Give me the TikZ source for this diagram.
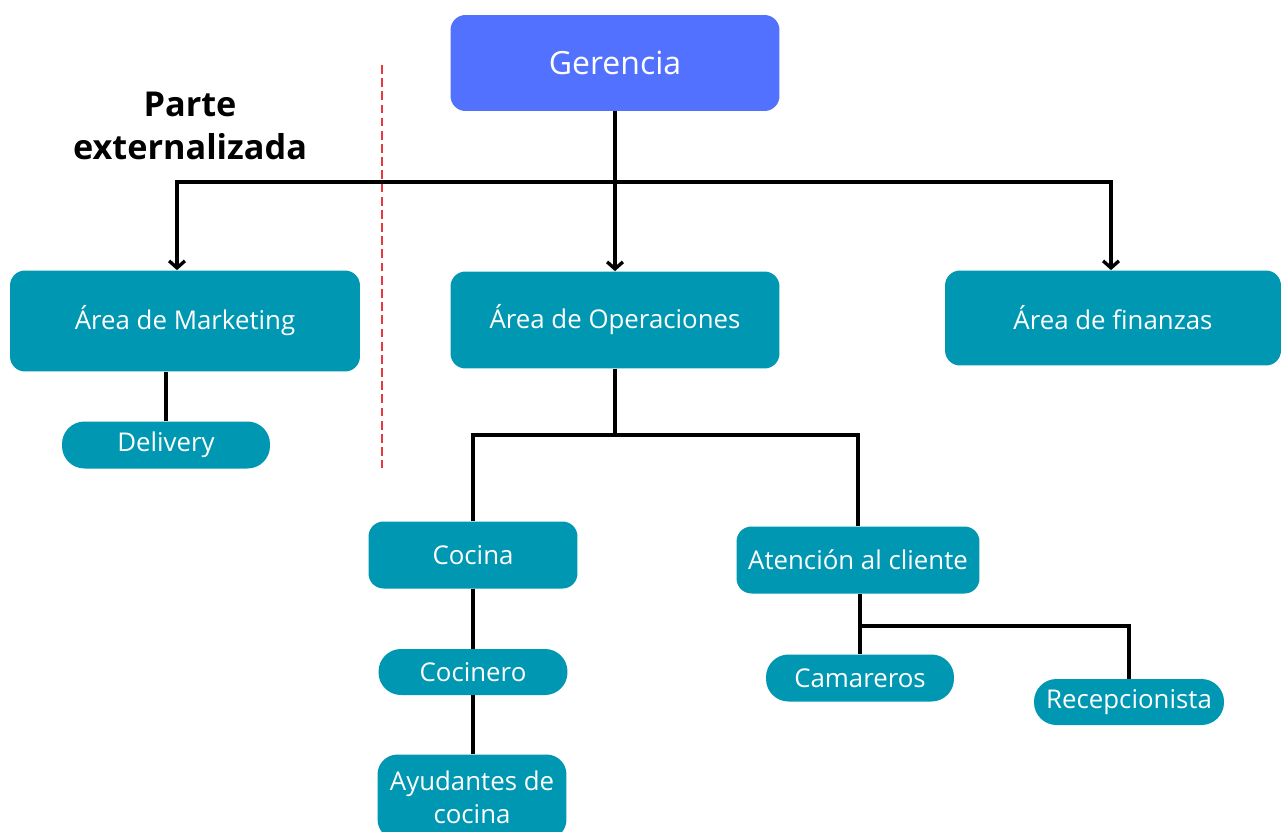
\documentclass[tikz,border=0pt]{standalone}
\usepackage{fontspec}
\setmainfont{Open Sans}
\usetikzlibrary{arrows.meta}
\definecolor{boxteal}{HTML}{0097B2}
\definecolor{boxblue}{HTML}{5271FF}
\definecolor{sepred}{HTML}{E8383D}

\begin{document}
\begin{tikzpicture} [
        x = 0.02cm, y = -0.02cm,
        >={Straight Barb[length=4pt, width=9pt]},
        every node/.style = {rectangle, rounded corners=0.3cm, fill=boxteal,
                             text=white, inner sep=0pt,
                             font=\fontsize{14.7}{19}\selectfont},
        pill/.style = {rounded corners=0.45cm, minimum height=0.94cm},
        lnk/.style = {line width=1.9pt, black}
    ]
    \clip (0,0) rectangle (1283,831);
    \fill[white] (0,0) rectangle (1283,831);

    % top level
    \node (Ger) [fill=boxblue, minimum width=6.58cm, minimum height=1.92cm,
                 font=\fontsize{18.2}{22}\selectfont] at (615,63) {Gerencia};
    \node (Ext) [fill=none, text=black, align=center,
                 font=\fontsize{19.5}{24.5}\selectfont\bfseries] at (190,126) {Parte\\externalizada};

    % areas
    \node (Mkt) [minimum width=7cm, minimum height=2.02cm] at (185,321) {Área de Marketing};
    \node (Ope) [minimum width=6.58cm, minimum height=1.94cm] at (615,320) {Área de Operaciones};
    \node (Fin) [minimum width=6.72cm, minimum height=1.9cm] at (1113,318) {Área de finanzas};

    % sub areas
    \node (Del) [pill, minimum width=4.16cm] at (166,445) {Delivery};
    \node (Coc) [minimum width=4.18cm, minimum height=1.34cm] at (473,555) {Cocina};
    \node (Ate) [minimum width=4.86cm, minimum height=1.34cm] at (858,560) {Atención al cliente};
    \node (Cnr) [pill, minimum width=3.78cm, minimum height=0.92cm] at (473,672) {Cocinero};
    \node (Ayu) [minimum width=3.78cm, minimum height=1.7cm, align=center,
                 rounded corners=0.4cm] at (472,797) {Ayudantes de\\cocina};
    \node (Cam) [pill, minimum width=3.76cm] at (860,678) {Camareros};
    \node (Rec) [pill, minimum width=3.8cm, minimum height=0.92cm] at (1129,702) {Recepcionista};

    \coordinate (barL) at (177,182);
    \coordinate (barR) at (1111,182);
    \coordinate (opJ) at (615,435);
    \coordinate (atJ) at (860,626);
    \coordinate (sepTop) at (382,65);
    \coordinate (sepBot) at (382,468);

    \draw [lnk, ->] (Ger.south) -- (Ope.north);
    \draw [lnk, <->] (barL |- Mkt.north) -- (barL) -- (barR) -- (barR |- Fin.north);

    \draw [lnk] (Del.north) -- (Del.north |- Mkt.south);
    \draw [lnk] (Ope.south) -- (opJ);
    \draw [lnk] (Coc.north) -- (Coc.north |- opJ) -- (Ate.north |- opJ) -- (Ate.north);
    \draw [lnk] (Coc.south) -- (Cnr.north);
    \draw [lnk] (Cnr.south) -- (Cnr.south |- Ayu.north);
    \draw [lnk] (Cam.north) -- (Cam.north |- Ate.south);
    \draw [lnk] (atJ) -| (Rec.north);

    \draw [sepred, line width=1.2pt, dash pattern=on 5pt off 2.5pt] (sepTop) -- (sepBot);
\end{tikzpicture}
\end{document}
